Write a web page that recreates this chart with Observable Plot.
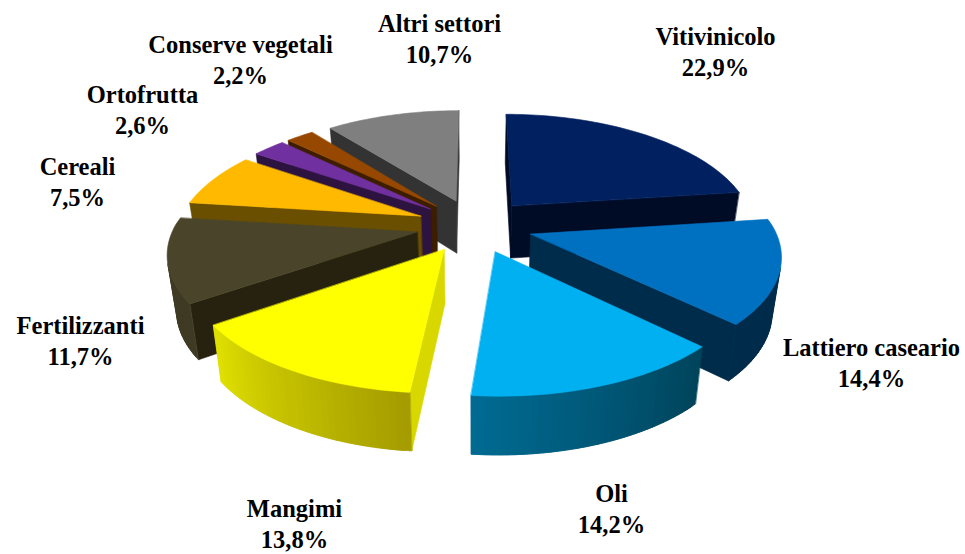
<!DOCTYPE html>
<html>
<head>
<meta charset="utf-8">
<script src="https://cdn.jsdelivr.net/npm/d3@7"></script>
<script src="https://cdn.jsdelivr.net/npm/@observablehq/plot@0.6"></script>
<style>
html,body{margin:0;padding:0;background:#fff}
svg{display:block}
</style>
</head>
<body>
<div id="chart"></div>
<script>
// Data
const categories = ["Vitivinicolo","Lattiero caseario","Oli","Mangimi","Fertilizzanti","Cereali","Ortofrutta","Conserve vegetali","Altri settori"];
const shares = [22.9,14.4,14.2,13.8,11.7,7.5,2.6,2.2,10.7];

// Styles
const topColors  = ["#00205f","#0070c0","#00b0f0","#ffff00","#4a452a","#ffba00","#7030a0","#974800","#7f7f7f"];
const wallColors = ["#000b25","#002c4b","#004a66","#d8d800","#26220f","#6a4f00","#2c1340","#3d1d00","#333333"];
const rimStart   = ["#000b25","#002c4b","#00435a","#a39b00","#3f3a24","#6a4f00","#2c1340","#3d1d00","#333333"];
const rimEnd     = ["#000b25","#002c4b","#006b93","#e0e000","#3f3a24","#6a4f00","#2c1340","#3d1d00","#333333"];

// Layout of the labels (pixel frame of the chart)
const labelX = [715,871,611,294,80,77,142,240,439];
const labelY = [50,361,507,522,339,180,108,58,37];

// Pseudo-3D pie layout
const W = 965, H = 554;
const cx = 474, cy = 225, Rx = 243, Ry = 112, depth = 53, explode = 0.24;
const project = (X, Y, bottom) => {
  const px = 1 / (1 + (Y > 0 ? 0.18 : 0.16) * Y);
  const py = 1 / (1 + 0.16 * Y);
  const shrink = bottom ? 0.97 : 1;
  return {
    x: cx + X * Rx * px * shrink,
    y: cy - Y * Ry * py + (bottom ? depth / (1 + 0.08 * Y) : 0)
  };
};

const arcs = d3.pie().sort(null).value(d => d)(shares);
const order = d3.range(shares.length).sort((a, b) =>
  Math.cos((arcs[b].startAngle + arcs[b].endAngle) / 2) - Math.cos((arcs[a].startAngle + arcs[a].endAngle) / 2));

const rows = [];
let id = 0;
const addFace = (pts, fill) => {
  id++;
  for (const p of pts) rows.push({x: p.x, y: p.y, id, fill});
};
const area = q => d3.sum(q, (p, i) => {
  const n = q[(i + 1) % q.length];
  return p.x * n.y - n.x * p.y;
});

for (const i of order) {
  const a = arcs[i];
  const mid = (a.startAngle + a.endAngle) / 2;
  const ox = explode * Math.sin(mid), oy = explode * Math.cos(mid);
  const steps = Math.max(2, Math.ceil((a.endAngle - a.startAngle) / 0.025));
  const angles = d3.range(steps + 1).map(k => a.startAngle + (a.endAngle - a.startAngle) * k / steps);
  const rim = angles.map(t => [ox + Math.sin(t), oy + Math.cos(t)]);
  const apex = [ox, oy];
  const T = p => project(p[0], p[1], false), B = p => project(p[0], p[1], true);
  const colorAt = d3.interpolateRgb(rimStart[i], rimEnd[i]);
  const visible = (u, v) => area([T(u), T(v), B(v), B(u)]) < 0;

  // side faces, only those turned towards the viewer
  if (visible(apex, rim[0])) addFace([T(apex), T(rim[0]), B(rim[0]), B(apex)], wallColors[i]);
  if (visible(rim[steps], apex)) addFace([T(rim[steps]), T(apex), B(apex), B(rim[steps])], wallColors[i]);
  for (let k = 0; k < steps; k++) {
    if (!visible(rim[k], rim[k + 1])) continue;
    // each strip runs under the next one so that no seams show
    const far = rim[Math.min(k + 2, steps)];
    addFace([T(rim[k]), T(rim[k + 1]), T(far), B(far), B(rim[k + 1]), B(rim[k])],
      d3.color(colorAt((k + .5) / steps)).formatHex());
  }
  // top face
  addFace([apex, ...rim].map(T), topColors[i]);
}

const labels = categories.map((name, i) => ({
  x: labelX[i], y: labelY[i],
  text: name + "\n" + shares[i].toFixed(1).replace(".", ",") + "%"
}));

const chart = Plot.plot({
  width: W, height: H, margin: 0,
  style: {background: "#fff"},
  x: {domain: [0, W], range: [0, W], axis: null},
  y: {domain: [0, H], range: [0, H], axis: null},
  marks: [
    Plot.line(rows, {x: "x", y: "y", z: "id", fill: "fill", stroke: "fill", strokeWidth: 0.6, curve: "linear-closed"}),
    Plot.text(labels, {x: "x", y: "y", text: "text", fontSize: 24.5, lineHeight: 1.245,
      fontFamily: "Liberation Serif", fontWeight: "bold", fill: "#000"})
  ]
});
document.getElementById("chart").append(chart);
</script>
</body>
</html>
